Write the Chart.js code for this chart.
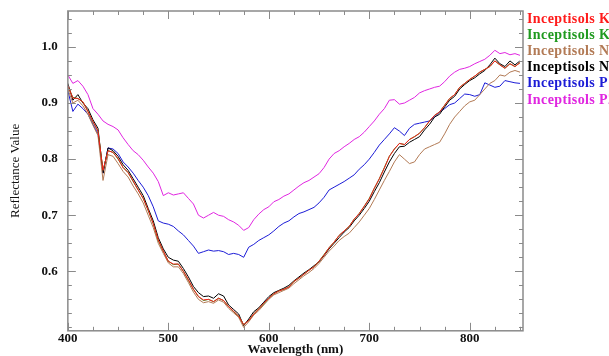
<!DOCTYPE html>
<html lang="en">
<head>
  <meta charset="UTF-8" />
  <title>Inceptisols reflectance</title>
  <script src="https://cdn.jsdelivr.net/npm/chart.js"></script>
  <style>
    body { margin: 0; background: #ffffff; }
    #wrap { width: 609px; height: 356px; overflow: hidden; }
  </style>
</head>
<body>
<div id="wrap"><canvas id="spec" width="609" height="356"></canvas></div>
<script>
  // wavelength grid (nm)
  const wavelengths = [400,405,410,415,420,425,430,435,440,445,450,455,460,465,470,475,480,485,490,495,
    500,505,510,515,520,525,530,535,540,545,550,555,560,565,570,575,580,585,590,595,
    600,605,610,615,620,625,630,635,640,645,650,655,660,665,670,675,680,685,690,695,
    700,705,710,715,720,725,730,735,740,745,750,755,760,765,770,775,780,785,790,795,
    800,805,810,815,820,825,830,835,840,845,850];

  const seriesNames = ['Inceptisols K1', 'Inceptisols K2', 'Inceptisols N1', 'Inceptisols N2', 'Inceptisols P1', 'Inceptisols P2'];
  const seriesColors = ['#ff1a1a', '#1f9a1f', '#b27a55', '#000000', '#1c1cd6', '#e026e0'];

  // K1 sits almost exactly under K2 / N2 in the original, so it barely shows
  const k1 = [0.931,0.909,0.908,0.902,0.885,0.867,0.850,0.780,0.815,0.812,0.801,0.785,0.776,0.761,0.745,0.730,0.709,0.685,0.656,0.636,
    0.618,0.613,0.613,0.600,0.585,0.568,0.555,0.549,0.550,0.546,0.552,0.548,0.537,0.529,0.520,0.505,0.512,0.524,0.533,0.543,
    0.552,0.560,0.565,0.568,0.572,0.582,0.588,0.595,0.602,0.608,0.618,0.629,0.642,0.652,0.664,0.672,0.680,0.693,0.703,0.716,
    0.729,0.748,0.765,0.784,0.805,0.818,0.828,0.826,0.835,0.840,0.846,0.856,0.868,0.878,0.884,0.896,0.908,0.915,0.928,0.935,
    0.942,0.948,0.955,0.960,0.965,0.975,0.968,0.962,0.970,0.965,0.972];
  const k2 = [0.930,0.910,0.908,0.902,0.885,0.866,0.850,0.780,0.815,0.812,0.800,0.785,0.776,0.760,0.745,0.730,0.708,0.685,0.655,0.636,
    0.618,0.612,0.613,0.600,0.584,0.568,0.555,0.548,0.550,0.546,0.552,0.548,0.537,0.528,0.520,0.505,0.512,0.524,0.533,0.542,
    0.552,0.560,0.565,0.568,0.572,0.582,0.588,0.595,0.602,0.608,0.618,0.630,0.642,0.652,0.664,0.672,0.680,0.693,0.703,0.716,
    0.730,0.748,0.765,0.785,0.805,0.818,0.828,0.826,0.835,0.840,0.846,0.856,0.868,0.878,0.884,0.896,0.908,0.915,0.928,0.935,
    0.942,0.948,0.955,0.960,0.965,0.975,0.968,0.962,0.970,0.965,0.972];
  const n1 = [0.925,0.900,0.905,0.895,0.880,0.860,0.842,0.762,0.808,0.805,0.792,0.778,0.768,0.752,0.738,0.722,0.700,0.678,0.650,0.632,
    0.615,0.608,0.608,0.596,0.580,0.563,0.550,0.544,0.546,0.543,0.549,0.545,0.534,0.526,0.518,0.500,0.510,0.522,0.530,0.540,
    0.550,0.558,0.562,0.566,0.570,0.578,0.585,0.592,0.598,0.605,0.614,0.625,0.636,0.645,0.655,0.662,0.668,0.678,0.688,0.700,
    0.712,0.728,0.745,0.762,0.778,0.795,0.808,0.800,0.792,0.795,0.808,0.818,0.822,0.826,0.830,0.845,0.862,0.875,0.885,0.895,
    0.902,0.905,0.915,0.925,0.935,0.940,0.950,0.948,0.955,0.958,0.955];
  const n2 = [0.935,0.905,0.915,0.900,0.890,0.870,0.855,0.775,0.820,0.815,0.805,0.790,0.780,0.765,0.750,0.735,0.712,0.690,0.660,0.640,
    0.625,0.620,0.618,0.605,0.590,0.573,0.562,0.555,0.556,0.552,0.560,0.556,0.540,0.532,0.524,0.503,0.515,0.528,0.535,0.545,
    0.555,0.562,0.566,0.570,0.575,0.583,0.590,0.597,0.603,0.610,0.617,0.628,0.640,0.650,0.660,0.670,0.678,0.690,0.700,0.712,
    0.725,0.742,0.758,0.777,0.795,0.810,0.822,0.823,0.830,0.835,0.840,0.852,0.862,0.875,0.880,0.893,0.905,0.912,0.925,0.933,
    0.940,0.945,0.952,0.958,0.968,0.980,0.970,0.965,0.975,0.968,0.975];
  const p1 = [0.922,0.885,0.898,0.890,0.880,0.862,0.845,0.775,0.820,0.818,0.810,0.795,0.786,0.775,0.762,0.750,0.735,0.715,0.690,0.686,
    0.684,0.680,0.672,0.665,0.655,0.645,0.632,0.635,0.638,0.636,0.637,0.635,0.630,0.632,0.630,0.625,0.643,0.648,0.655,0.660,
    0.665,0.672,0.680,0.686,0.690,0.697,0.703,0.706,0.710,0.714,0.722,0.732,0.745,0.750,0.755,0.760,0.766,0.772,0.782,0.790,
    0.800,0.812,0.825,0.835,0.845,0.856,0.850,0.842,0.855,0.862,0.864,0.866,0.868,0.875,0.884,0.890,0.897,0.900,0.908,0.916,
    0.915,0.912,0.915,0.936,0.932,0.928,0.930,0.940,0.938,0.936,0.935];
  const p2 = [0.950,0.935,0.940,0.930,0.915,0.890,0.880,0.868,0.862,0.858,0.852,0.838,0.826,0.815,0.808,0.798,0.786,0.775,0.760,0.735,
    0.740,0.736,0.738,0.740,0.730,0.720,0.700,0.695,0.700,0.705,0.700,0.698,0.692,0.688,0.682,0.673,0.678,0.692,0.702,0.710,
    0.715,0.724,0.728,0.734,0.738,0.745,0.752,0.758,0.762,0.768,0.774,0.785,0.800,0.810,0.815,0.822,0.828,0.835,0.840,0.848,
    0.858,0.868,0.880,0.890,0.905,0.906,0.898,0.900,0.905,0.910,0.918,0.922,0.925,0.928,0.930,0.938,0.948,0.955,0.960,0.962,
    0.965,0.970,0.974,0.978,0.985,0.994,0.988,0.990,0.986,0.988,0.985];
  const seriesValues = [k1, k2, n1, n2, p1, p2];

  // axis ticks
  const xLabels = [400, 500, 600, 700, 800];
  const xMinor = [425, 450, 475, 525, 550, 575, 625, 650, 675, 725, 750, 775, 825, 850];
  const yLabels = [0.6, 0.7, 0.8, 0.9, 1.0];
  const yMinor = [0.5, 0.525, 0.55, 0.575, 0.625, 0.65, 0.675, 0.725, 0.75, 0.775, 0.825, 0.85, 0.875, 0.925, 0.95, 0.975, 1.025, 1.05];

  const serif = "'Liberation Serif', 'DejaVu Serif', serif";
  const frameColor = '#8a8a8a';

  // frame + inward ticks on all four sides
  const frameTicks = {
    id: 'frameTicks',
    afterDatasetsDraw(chart) {
      const { ctx, chartArea: a, scales } = chart;
      ctx.save();
      ctx.strokeStyle = frameColor;
      ctx.lineWidth = 1.5;
      ctx.strokeRect(a.left, a.top, a.right - a.left, a.bottom - a.top);
      ctx.lineWidth = 1;
      ctx.beginPath();
      const xt = (v, len) => {
        const px = Math.round(scales.x.getPixelForValue(v)) + 0.5;
        ctx.moveTo(px, a.bottom); ctx.lineTo(px, a.bottom - len);
        ctx.moveTo(px, a.top); ctx.lineTo(px, a.top + len);
      };
      const yt = (v, len) => {
        const py = Math.round(scales.y.getPixelForValue(v)) + 0.5;
        ctx.moveTo(a.left, py); ctx.lineTo(a.left + len, py);
        ctx.moveTo(a.right, py); ctx.lineTo(a.right - len, py);
      };
      xLabels.forEach(v => xt(v, 8));
      xMinor.forEach(v => xt(v, 4));
      yLabels.forEach(v => yt(v, 8));
      yMinor.forEach(v => yt(v, 4));
      ctx.stroke();
      ctx.restore();
    }
  };

  // legend text on the right, cut off by the canvas edge like the original
  const sideLegend = {
    id: 'sideLegend',
    afterDraw(chart) {
      const { ctx } = chart;
      ctx.save();
      ctx.font = 'bold 14px ' + serif;
      ctx.letterSpacing = '0.4px';
      ctx.textBaseline = 'middle';
      seriesNames.forEach((name, i) => {
        ctx.fillStyle = seriesColors[i];
        ctx.fillText(name, 527, 19 + i * 16.2);
      });
      ctx.restore();
    }
  };

  new Chart(document.getElementById('spec'), {
    type: 'line',
    data: {
      datasets: seriesNames.map((name, i) => ({
        label: name,
        data: wavelengths.map((w, j) => ({ x: w, y: seriesValues[i][j] })),
        borderColor: seriesColors[i],
        borderWidth: 1,
        pointRadius: 0,
        tension: 0,
        fill: false
      }))
    },
    options: {
      responsive: false,
      animation: false,
      devicePixelRatio: 1,
      layout: { padding: { left: 8, right: 86, top: 11, bottom: -1 } },
      plugins: { legend: { display: false }, tooltip: { enabled: false } },
      scales: {
        x: {
          type: 'linear',
          min: 400,
          max: 853,
          afterBuildTicks: s => { s.ticks = xLabels.map(v => ({ value: v })); },
          grid: { display: false, drawTicks: false },
          border: { display: false },
          ticks: { color: '#111', padding: 0, maxRotation: 0, font: { family: serif, size: 13, weight: 'bold' } },
          title: { display: true, text: 'Wavelength (nm)', color: '#111', padding: { top: -5, bottom: 0 }, font: { family: serif, size: 13, weight: 'bold' } }
        },
        y: {
          min: 0.494,
          max: 1.064,
          afterBuildTicks: s => { s.ticks = yLabels.map(v => ({ value: v })); },
          afterFit: s => { s.paddingTop = 0; s.paddingBottom = 0; },
          grid: { display: false, drawTicks: false },
          border: { display: false },
          ticks: { color: '#111', padding: 10, callback: v => v.toFixed(1), font: { family: serif, size: 13, weight: 'bold' } },
          title: { display: true, text: 'Reflectance Value', color: '#111', padding: { top: 0, bottom: 8 }, font: { family: serif, size: 13 } }
        }
      }
    },
    plugins: [frameTicks, sideLegend]
  });
</script>
</body>
</html>
